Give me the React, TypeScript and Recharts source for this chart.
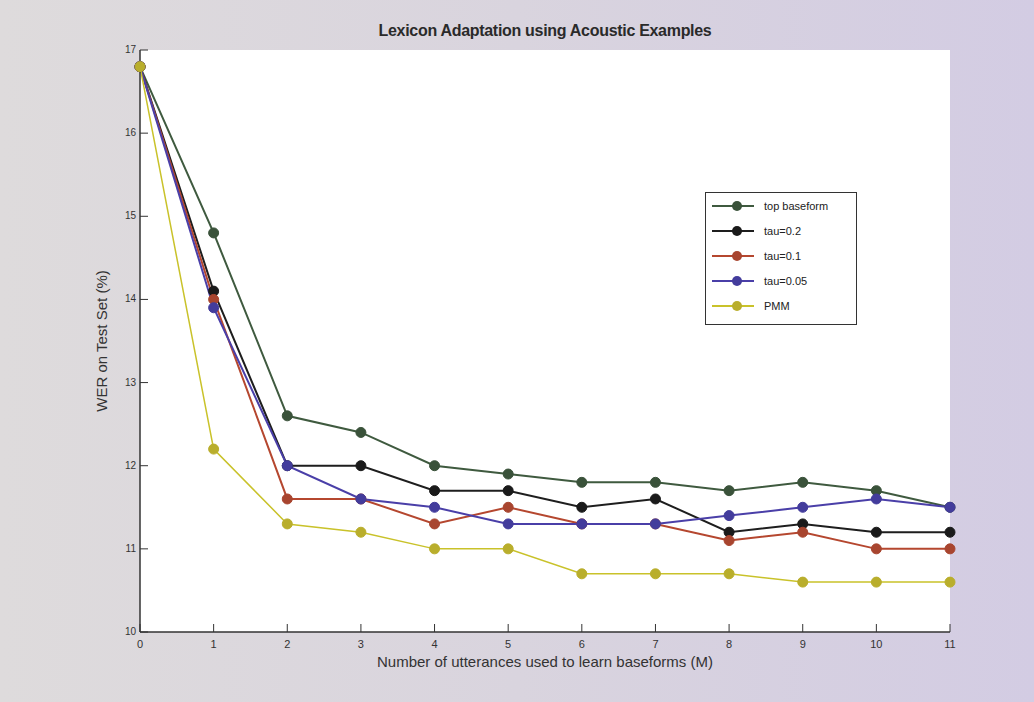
import { CartesianGrid, Label, Line, LineChart, XAxis, YAxis } from "recharts";

const utterances = [0, 1, 2, 3, 4, 5, 6, 7, 8, 9, 10, 11];
const topBaseform = [16.8, 14.8, 12.6, 12.4, 12.0, 11.9, 11.8, 11.8, 11.7, 11.8, 11.7, 11.5];
const tau02 = [16.8, 14.1, 12.0, 12.0, 11.7, 11.7, 11.5, 11.6, 11.2, 11.3, 11.2, 11.2];
const tau01 = [16.8, 14.0, 11.6, 11.6, 11.3, 11.5, 11.3, 11.3, 11.1, 11.2, 11.0, 11.0];
const tau005 = [16.8, 13.9, 12.0, 11.6, 11.5, 11.3, 11.3, 11.3, 11.4, 11.5, 11.6, 11.5];
const pmm = [16.8, 12.2, 11.3, 11.2, 11.0, 11.0, 10.7, 10.7, 10.7, 10.6, 10.6, 10.6];
const yTicks = [10, 11, 12, 13, 14, 15, 16, 17];

const series = [
  { key: "top", name: "top baseform", values: topBaseform, stroke: "#3f5a3f", fill: "#3a523a", width: 2 },
  { key: "t02", name: "tau=0.2", values: tau02, stroke: "#1e1e1e", fill: "#1a1a1a", width: 2 },
  { key: "t01", name: "tau=0.1", values: tau01, stroke: "#b5472f", fill: "#a8452f", width: 2 },
  { key: "t005", name: "tau=0.05", values: tau005, stroke: "#4a3fa8", fill: "#433c9c", width: 2 },
  { key: "pmm", name: "PMM", values: pmm, stroke: "#c9c22a", fill: "#b9ae2c", width: 1.5 },
];

const data = utterances.map((m, i) => {
  const row: Record<string, number> = { m };
  series.forEach((s) => (row[s.key] = s.values[i]));
  return row;
});

const font = "'Liberation Sans', Arial, sans-serif";

function XTick({ x, y, payload }: any) {
  return (
    <g>
      <line x1={x} y1={y} x2={x} y2={y - 8} stroke="#333" strokeWidth={1} />
      <text x={x} y={y + 16} textAnchor="middle" fontSize={11} fill="#333" fontFamily={font}>
        {payload.value}
      </text>
    </g>
  );
}

function YTick({ x, y, payload }: any) {
  return (
    <g>
      <line x1={x} y1={y} x2={x + 8} y2={y} stroke="#333" strokeWidth={1} />
      <text x={x - 4} y={y + 3} textAnchor="end" fontSize={10} fill="#333" fontFamily={font}>
        {payload.value}
      </text>
    </g>
  );
}

// legend sits inside the plot, drawn as a plain box over the chart
function LegendBox() {
  return (
    <div
      style={{
        position: "absolute",
        left: 705,
        top: 192,
        width: 150,
        border: "1px solid #333",
        background: "#fff",
        padding: "0 0 6px 0",
        fontFamily: font,
        fontSize: 11,
        color: "#222",
      }}
    >
      {series.map((s) => (
        <div key={s.key} style={{ display: "flex", alignItems: "center", height: 25 }}>
          <svg width={56} height={12} style={{ flex: "none" }}>
            <line x1={6} y1={6} x2={48} y2={6} stroke={s.stroke} strokeWidth={2} />
            <circle cx={31} cy={6} r={5} fill={s.fill} />
          </svg>
          <span style={{ marginLeft: 2 }}>{s.name}</span>
        </div>
      ))}
    </div>
  );
}

export default function App() {
  return (
    <div
      style={{
        position: "absolute",
        left: 0,
        top: 0,
        width: 1034,
        height: 702,
        background: "linear-gradient(90deg, #dedbdc 0%, #d9d4de 50%, #d3cce3 100%)",
      }}
    >
      <div
        style={{
          position: "absolute",
          left: 140,
          width: 810,
          top: 22,
          textAlign: "center",
          fontFamily: font,
          fontSize: 16,
          fontWeight: "bold",
          color: "#2a2a2a",
          letterSpacing: -0.3,
        }}
      >
        Lexicon Adaptation using Acoustic Examples
      </div>
      <LineChart width={1034} height={702} data={data} margin={{ top: 50, right: 84, bottom: 40, left: 100 }}>
        <CartesianGrid horizontal={false} vertical={false} fill="#ffffff" />
        <XAxis
          dataKey="m"
          type="number"
          domain={[0, 11]}
          ticks={utterances}
          height={30}
          tickSize={0}
          tickMargin={0}
          tick={<XTick />}
          axisLine={{ stroke: "#333", strokeWidth: 1.5 }}
        >
          <Label
            value="Number of utterances used to learn baseforms (M)"
            position="insideBottom"
            offset={-5}
            style={{ fontFamily: font, fontSize: 15, fill: "#333" }}
          />
        </XAxis>
        <YAxis
          type="number"
          domain={[10, 17]}
          ticks={yTicks}
          width={40}
          tickSize={0}
          tickMargin={0}
          tick={<YTick />}
          axisLine={{ stroke: "#333", strokeWidth: 1.5 }}
        >
          <Label
            value="WER on Test Set (%)"
            angle={-90}
            position="insideLeft"
            offset={2}
            style={{ fontFamily: font, fontSize: 15, fill: "#333", textAnchor: "middle" }}
          />
        </YAxis>
        {series.map((s) => (
          <Line
            key={s.key}
            dataKey={s.key}
            name={s.name}
            stroke={s.stroke}
            strokeWidth={s.width}
            dot={{ r: 5, fill: s.fill, stroke: s.fill, strokeWidth: 1 }}
            isAnimationActive={false}
          />
        ))}
      </LineChart>
      <LegendBox />
    </div>
  );
}
